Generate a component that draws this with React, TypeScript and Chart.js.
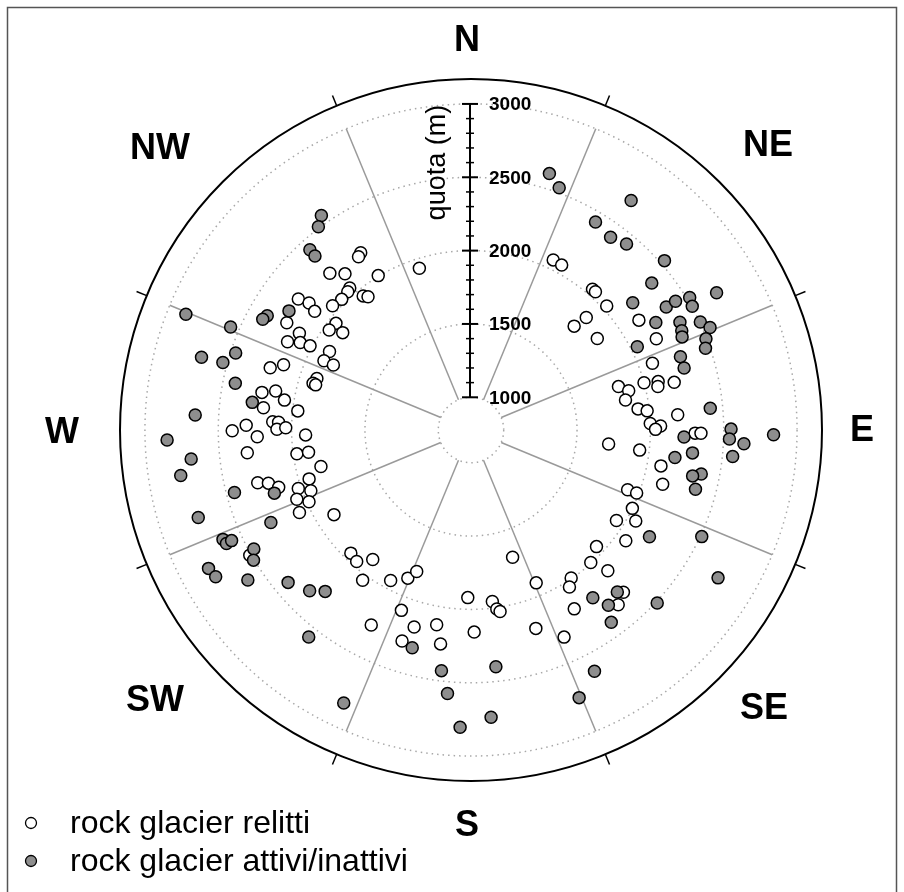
import React, { useEffect, useRef } from 'react';
import { Chart, registerables } from 'chart.js';

Chart.register(...registerables);

// ---- data (azimuth in degrees clockwise from N, quota in metres) ----
const relictAzimuth = [
  328.1, 327.0, 318.0, 321.1, 319.5, 318.3, 321.2, 322.3, 315.3, 311.9,
  307.2, 308.1, 307.2, 300.2, 308.3, 305.2, 307.2, 295.7, 299.4, 297.1,
  297.6, 299.0, 329.0, 342.3, 25.8, 28.8, 44.8, 40.8, 42.0, 47.6,
  45.7, 56.8, 54.1, 63.8, 69.8, 73.6, 76.0, 79.0, 74.7, 75.5,
  76.9, 76.8, 82.8, 83.8, 85.8, 87.9, 88.8, 89.8, 90.8, 90.8,
  95.8, 96.8, 100.7, 105.8, 110.9, 110.8, 115.9, 121.9, 118.9, 125.6,
  132.9, 137.9, 135.8, 145.9, 147.9, 136.8, 139.9, 150.0, 155.8, 217.2,
  215.8, 208.1, 203.1, 201.0, 161.9, 156.9, 181.1, 172.9, 171.8, 170.9,
  201.1, 207.1, 196.1, 190.0, 198.1, 188.1, 179.1, 161.9, 224.3, 221.0,
  240.5, 295.2, 295.3, 287.2, 289.2, 288.5, 286.5, 286.2, 280.2, 281.3,
  279.1, 276.1, 276.3, 272.4, 272.3, 270.2, 270.7, 271.2, 269.8, 268.2,
  268.3, 264.2, 262.2, 262.2, 256.3, 256.1, 255.3, 253.4, 253.2, 251.3,
  249.2, 248.3, 246.1, 244.3, 238.3,
];
const relictQuota = [
  2200, 2185, 2215, 2145, 2050, 2040, 1950, 1925, 2030, 2045,
  2255, 2180, 2115, 2230, 1950, 1960, 1875, 2165, 2120, 2085,
  2015, 1880, 2005, 1935, 2065, 2060, 1775, 2045, 2045, 2030,
  1875, 2145, 1840, 2185, 2095, 1825, 1885, 1850, 2000, 2095,
  2085, 2200, 1925, 1985, 2190, 2000, 2070, 2035, 2305, 2345,
  1720, 1935, 2095, 2135, 1920, 1985, 2000, 1945, 2060, 2075,
  1945, 1995, 2115, 1995, 2040, 2295, 2335, 2185, 2325, 1885,
  2040, 1940, 1875, 1810, 1690, 1910, 1920, 1955, 2010, 2030,
  2095, 2270, 2175, 2125, 2290, 2250, 2155, 2200, 1950, 1965,
  2510, 1885, 1815, 2210, 2130, 1885, 1900, 1880, 2225, 2135,
  2065, 2200, 1965, 2130, 2090, 2100, 2040, 2310, 2405, 2235,
  1905, 2310, 1975, 1895, 1830, 2275, 2205, 2145, 1930, 2020,
  1945, 2055, 1985, 2075, 1875,
];
const activeAzimuth = [
  325.1, 323.1, 318.2, 318.1, 303.2, 299.3, 298.0, 292.1, 293.2, 17.0,
  20.0, 34.9, 30.9, 35.9, 39.9, 48.8, 50.9, 60.8, 51.8, 57.8,
  57.8, 58.8, 60.8, 59.8, 62.7, 64.8, 66.2, 64.8, 66.8, 68.8,
  70.8, 63.4, 70.7, 73.8, 84.8, 89.8, 92.0, 92.9, 90.9, 95.8,
  91.9, 95.9, 97.7, 100.8, 101.7, 104.8, 120.9, 114.8, 120.9, 132.9,
  144.0, 137.9, 141.9, 143.9, 152.9, 158.0, 195.1, 187.0, 174.0, 185.1,
  176.0, 182.1, 246.2, 245.1, 245.2, 241.3, 239.1, 242.2, 240.1, 236.1,
  230.2, 225.1, 222.1, 218.1, 205.0, 285.1, 285.2, 288.1, 281.2, 277.2,
  273.1, 268.1, 264.1, 261.1, 255.2, 252.2, 252.2, 245.2,
];
const activeQuota = [
  2560, 2510, 2425, 2370, 2260, 2370, 2385, 2875, 2560, 2605,
  2535, 2685, 2430, 2400, 2430, 2530, 2365, 2695, 2180, 2350,
  2425, 2520, 2505, 2235, 2380, 2365, 2350, 2505, 2550, 2495,
  2470, 2045, 2290, 2290, 2415, 2550, 2540, 2640, 2840, 2570,
  2230, 2295, 2180, 2375, 2320, 2360, 2195, 2510, 2740, 2510,
  2190, 2265, 2295, 2400, 2625, 2745, 2315, 2430, 2400, 2580,
  2740, 2805, 2625, 2615, 2575, 2465, 2505, 2800, 2785, 2610,
  2400, 2330, 2260, 2570, 2830, 2680, 2530, 2465, 2415, 2280,
  2660, 2850, 2695, 2780, 2445, 2185, 2730, 2280,
];

const seriesNames = ['rock glacier relitti', 'rock glacier attivi/inattivi'];
const directionLabels = ['N', 'NE', 'E', 'SE', 'S', 'SW', 'W', 'NW'];
const ringQuotas = [1000, 1500, 2000, 2500, 3000];
const axisTickLabels = ['1000', '1500', '2000', '2500', '3000'];
const axisTitle = 'quota (m)';

const CENTER_QUOTA = 777; // quota mapped to the centre of the plot
const OUTER_QUOTA = 3170; // quota of the outer black circle
const AXIS_MIN = 1000;
const AXIS_MAX = 3000;
const MINOR_STEP = 100;

const WHITE = '#ffffff';
const GRAY = '#8e8e8e';

// label anchor offsets (px) from the plot centre, one per direction label
const LABEL_OFFSETS: [number, number][] = [
  [-4, -390], [297, -285], [391, 0], [293, 278],
  [-4, 395], [-316, 270], [-409, 2], [-311, -282],
];

function toPoints(az: number[], q: number[]) {
  return az.map((a, i) => {
    const r = q[i] - CENTER_QUOTA;
    const rad = (a * Math.PI) / 180;
    return { x: r * Math.sin(rad), y: r * Math.cos(rad) };
  });
}

const polarPlugin = {
  id: 'polarFrame',
  beforeDraw(chart: any) {
    const ctx = chart.ctx as CanvasRenderingContext2D;
    ctx.save();
    ctx.fillStyle = '#ffffff';
    ctx.fillRect(0, 0, chart.width, chart.height);
    ctx.strokeStyle = '#555555';
    ctx.lineWidth = 1.5;
    ctx.beginPath();
    ctx.moveTo(7.5, chart.height + 2);
    ctx.lineTo(7.5, 7.5);
    ctx.lineTo(896.5, 7.5);
    ctx.lineTo(896.5, chart.height + 2);
    ctx.stroke();
    ctx.restore();
  },
  beforeDatasetsDraw(chart: any) {
    const ctx = chart.ctx as CanvasRenderingContext2D;
    const xs = chart.scales.x;
    const ys = chart.scales.y;
    const cx = xs.getPixelForValue(0);
    const cy = ys.getPixelForValue(0);
    const rPx = (q: number) => xs.getPixelForValue(q - CENTER_QUOTA) - cx;
    ctx.save();

    // dotted rings
    ctx.strokeStyle = '#a8a8a8';
    ctx.lineWidth = 1.5;
    ctx.setLineDash([1.5, 4]);
    ringQuotas.forEach((q) => {
      ctx.beginPath();
      ctx.arc(cx, cy, rPx(q), 0, Math.PI * 2);
      ctx.stroke();
    });
    ctx.setLineDash([]);

    // sector boundaries
    ctx.strokeStyle = '#9a9a9a';
    ctx.lineWidth = 1.5;
    for (let k = 0; k < 8; k++) {
      const a = ((22.5 + 45 * k) * Math.PI) / 180;
      const r0 = rPx(AXIS_MIN);
      const r1 = rPx(AXIS_MAX);
      ctx.beginPath();
      ctx.moveTo(cx + r0 * Math.sin(a), cy - r0 * Math.cos(a));
      ctx.lineTo(cx + r1 * Math.sin(a), cy - r1 * Math.cos(a));
      ctx.stroke();
    }

    // outer circle and its ticks
    const rOut = rPx(OUTER_QUOTA);
    ctx.strokeStyle = '#000000';
    ctx.lineWidth = 2;
    ctx.beginPath();
    ctx.arc(cx, cy, rOut, 0, Math.PI * 2);
    ctx.stroke();
    ctx.lineWidth = 1.5;
    for (let k = 0; k < 8; k++) {
      const a = ((22.5 + 45 * k) * Math.PI) / 180;
      ctx.beginPath();
      ctx.moveTo(cx + rOut * Math.sin(a), cy - rOut * Math.cos(a));
      ctx.lineTo(cx + (rOut + 11) * Math.sin(a), cy - (rOut + 11) * Math.cos(a));
      ctx.stroke();
    }

    // direction labels
    ctx.fillStyle = '#000000';
    ctx.font = 'bold 36px "Liberation Sans", Arial, sans-serif';
    ctx.textAlign = 'center';
    ctx.textBaseline = 'middle';
    directionLabels.forEach((lab, k) => {
      const [dx, dy] = LABEL_OFFSETS[k];
      ctx.fillText(lab, cx + dx, cy + dy + 1);
    });

    // radial axis
    const ax = cx - 1;
    ctx.strokeStyle = '#000000';
    ctx.lineWidth = 2;
    ctx.beginPath();
    ctx.moveTo(ax, cy - rPx(AXIS_MIN));
    ctx.lineTo(ax, cy - rPx(AXIS_MAX));
    ctx.stroke();
    for (let q = AXIS_MIN; q <= AXIS_MAX; q += MINOR_STEP) {
      const y = cy - rPx(q);
      const major = (q - AXIS_MIN) % 500 === 0;
      const half = major ? 8 : 4;
      ctx.lineWidth = major ? 2 : 1.5;
      ctx.beginPath();
      ctx.moveTo(ax - half, y);
      ctx.lineTo(ax + half, y);
      ctx.stroke();
    }
    ctx.font = 'bold 19px "Liberation Sans", Arial, sans-serif';
    ctx.textAlign = 'left';
    ctx.textBaseline = 'middle';
    ringQuotas.forEach((q, i) => {
      ctx.fillText(axisTickLabels[i], ax + 19, cy - rPx(q) + 1);
    });

    // axis title
    ctx.save();
    const tMid = cy - (rPx(2500) + rPx(3000)) / 2 + 22;
    ctx.translate(ax - 25, tMid);
    ctx.rotate(-Math.PI / 2);
    ctx.font = '27px "Liberation Sans", Arial, sans-serif';
    ctx.textAlign = 'center';
    ctx.textBaseline = 'alphabetic';
    ctx.fillText(axisTitle, 0, 0);
    ctx.restore();

    // legend
    const fills = [WHITE, GRAY];
    ctx.font = '32px "Liberation Sans", Arial, sans-serif';
    ctx.textAlign = 'left';
    ctx.textBaseline = 'middle';
    seriesNames.forEach((name, i) => {
      const y = 823 + i * 38;
      ctx.beginPath();
      ctx.arc(31, y, 5.5, 0, Math.PI * 2);
      ctx.fillStyle = fills[i];
      ctx.fill();
      ctx.strokeStyle = '#000000';
      ctx.lineWidth = 1.3;
      ctx.stroke();
      ctx.fillStyle = '#000000';
      ctx.fillText(name, 70, y + 1);
    });

    ctx.restore();
  },
};

export default function App() {
  const canvasRef = useRef<HTMLCanvasElement | null>(null);

  useEffect(() => {
    if (!canvasRef.current) return;
    const R = OUTER_QUOTA - CENTER_QUOTA;
    const chart = new Chart(canvasRef.current, {
      type: 'scatter',
      data: {
        datasets: [
          {
            label: seriesNames[0],
            data: toPoints(relictAzimuth, relictQuota),
            backgroundColor: WHITE,
            borderColor: '#000000',
            borderWidth: 1.5,
            pointRadius: 6,
            pointHoverRadius: 6,
            order: 1,
          },
          {
            label: seriesNames[1],
            data: toPoints(activeAzimuth, activeQuota),
            backgroundColor: GRAY,
            borderColor: '#000000',
            borderWidth: 1.5,
            pointRadius: 6,
            pointHoverRadius: 6,
            order: 0,
          },
        ],
      },
      options: {
        responsive: false,
        animation: false,
        events: [],
        layout: { padding: { left: 120, right: 82, top: 79, bottom: 111 } },
        scales: {
          x: { type: 'linear', min: -R, max: R, display: false },
          y: { type: 'linear', min: -R, max: R, display: false },
        },
        plugins: {
          legend: { display: false },
          tooltip: { enabled: false },
          title: { display: false },
        },
      },
      plugins: [polarPlugin],
    });
    return () => chart.destroy();
  }, []);

  return (
    <div style={{ position: 'absolute', left: 0, top: 0, width: 904, height: 892 }}>
      <canvas ref={canvasRef} width={904} height={892} style={{ display: 'block' }} />
    </div>
  );
}
